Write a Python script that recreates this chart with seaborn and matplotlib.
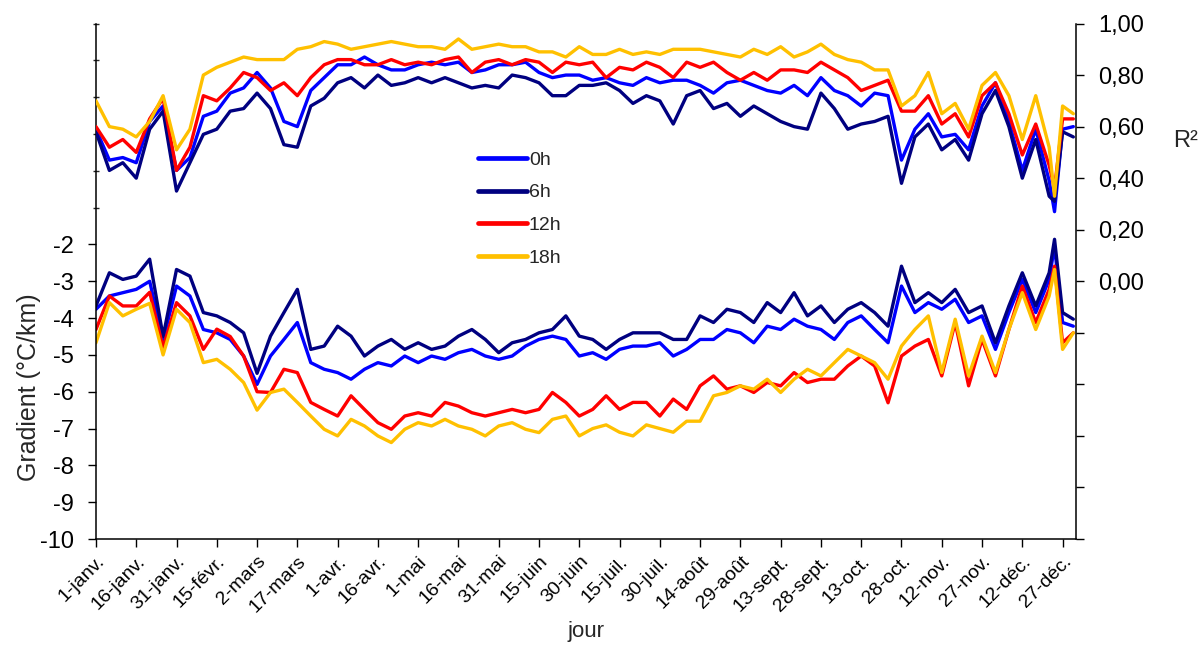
import numpy as np
import pandas as pd
import matplotlib
matplotlib.use("Agg")
import matplotlib.pyplot as plt
from matplotlib.ticker import FixedLocator
import seaborn as sns

# days of the year (1 = 1 janv.)
days = list(range(1, 357, 5)) + [358, 361, 365]

heures = ["0h", "6h", "12h", "18h"]
couleurs = ["#0000ff", "#000080", "#ff0000", "#ffc000"]

# R² (right axis)
r2_0h = [0.59, 0.47, 0.48, 0.46, 0.62, 0.68, 0.43, 0.48, 0.64, 0.66,
         0.73, 0.75, 0.81, 0.75, 0.62, 0.60, 0.74, 0.79, 0.84, 0.84,
         0.87, 0.84, 0.82, 0.82, 0.84, 0.85, 0.84, 0.85, 0.81, 0.82,
         0.84, 0.84, 0.85, 0.81, 0.79, 0.80, 0.80,
         0.78, 0.79, 0.77, 0.76, 0.79, 0.77, 0.78, 0.78, 0.76, 0.73,
         0.77, 0.78, 0.76, 0.74, 0.73, 0.76, 0.72, 0.79, 0.74, 0.72,
         0.68, 0.73, 0.72, 0.47, 0.59, 0.65, 0.56, 0.57, 0.51, 0.68,
         0.77, 0.62, 0.43, 0.59, 0.39, 0.27, 0.59, 0.60]
r2_6h = [0.58, 0.43, 0.46, 0.40, 0.59, 0.66, 0.35, 0.46, 0.57, 0.59,
         0.66, 0.67, 0.73, 0.67, 0.53, 0.52, 0.68, 0.71, 0.77, 0.79,
         0.75, 0.80, 0.76, 0.77, 0.79, 0.77, 0.79, 0.77, 0.75, 0.76,
         0.75, 0.80, 0.79, 0.77, 0.72, 0.72, 0.76,
         0.76, 0.77, 0.74, 0.69, 0.72, 0.70, 0.61, 0.72, 0.74, 0.67,
         0.69, 0.64, 0.68, 0.65, 0.62, 0.60, 0.59, 0.73, 0.67, 0.59,
         0.61, 0.62, 0.64, 0.38, 0.56, 0.61, 0.51, 0.55, 0.47, 0.65,
         0.74, 0.60, 0.40, 0.55, 0.33, 0.31, 0.58, 0.56]
r2_12h = [0.60, 0.52, 0.55, 0.50, 0.63, 0.71, 0.43, 0.52, 0.72, 0.70,
          0.75, 0.81, 0.79, 0.74, 0.77, 0.72, 0.79, 0.84, 0.86, 0.86,
          0.84, 0.84, 0.86, 0.84, 0.85, 0.84, 0.86, 0.87, 0.81, 0.85,
          0.86, 0.84, 0.86, 0.85, 0.81, 0.85, 0.84,
          0.85, 0.79, 0.83, 0.82, 0.85, 0.83, 0.79, 0.85, 0.83, 0.85,
          0.81, 0.78, 0.81, 0.78, 0.82, 0.82, 0.81, 0.85, 0.82, 0.79,
          0.74, 0.76, 0.78, 0.66, 0.66, 0.72, 0.61, 0.65, 0.56, 0.72,
          0.77, 0.65, 0.49, 0.61, 0.45, 0.36, 0.63, 0.63]
r2_18h = [0.70, 0.60, 0.59, 0.56, 0.62, 0.72, 0.51, 0.59, 0.80, 0.83,
          0.85, 0.87, 0.86, 0.86, 0.86, 0.90, 0.91, 0.93, 0.92, 0.90,
          0.91, 0.92, 0.93, 0.92, 0.91, 0.91, 0.90, 0.94, 0.90, 0.91,
          0.92, 0.91, 0.91, 0.89, 0.89, 0.87, 0.91,
          0.88, 0.88, 0.90, 0.88, 0.89, 0.88, 0.90, 0.90, 0.90, 0.89,
          0.88, 0.87, 0.90, 0.88, 0.91, 0.87, 0.89, 0.92, 0.88, 0.86,
          0.85, 0.82, 0.82, 0.68, 0.72, 0.81, 0.65, 0.69, 0.59, 0.76,
          0.81, 0.72, 0.55, 0.72, 0.52, 0.33, 0.68, 0.65]

# gradient en °C/km (left axis)
g_0h = [-3.76, -3.40, -3.31, -3.22, -3.00, -4.60, -3.13, -3.40, -4.31, -4.40,
        -4.58, -5.03, -5.80, -5.03, -4.58, -4.12, -5.21, -5.39, -5.48, -5.66,
        -5.39, -5.21, -5.30, -5.03, -5.21, -5.03, -5.12, -4.94, -4.85, -5.03,
        -5.12, -5.03, -4.76, -4.58, -4.49, -4.58, -5.03,
        -4.94, -5.12, -4.85, -4.76, -4.76, -4.67, -5.03, -4.85, -4.58, -4.58,
        -4.31, -4.40, -4.67, -4.22, -4.31, -4.03, -4.22, -4.31, -4.58, -4.12,
        -3.94, -4.31, -4.67, -3.13, -3.85, -3.58, -3.76, -3.49, -4.12, -3.94,
        -4.85, -3.85, -2.95, -3.85, -2.95, -2.05, -4.12, -4.22]
g_6h = [-3.67, -2.77, -2.95, -2.86, -2.40, -4.50, -2.68, -2.86, -3.85, -3.94,
        -4.12, -4.40, -5.50, -4.49, -3.85, -3.22, -4.85, -4.76, -4.22, -4.49,
        -5.03, -4.76, -4.58, -4.85, -4.67, -4.85, -4.76, -4.49, -4.31, -4.58,
        -4.94, -4.67, -4.58, -4.40, -4.31, -3.94, -4.49,
        -4.58, -4.85, -4.58, -4.40, -4.40, -4.40, -4.58, -4.58, -3.94, -4.12,
        -3.76, -3.85, -4.12, -3.58, -3.85, -3.31, -3.94, -3.67, -4.12, -3.76,
        -3.58, -3.85, -4.22, -2.59, -3.58, -3.31, -3.58, -3.22, -3.85, -3.67,
        -4.67, -3.67, -2.77, -3.67, -2.77, -1.86, -3.85, -4.03]
g_12h = [-4.31, -3.40, -3.67, -3.67, -3.30, -4.80, -3.58, -3.94, -4.85, -4.30,
         -4.50, -5.03, -6.00, -6.02, -5.39, -5.48, -6.29, -6.48, -6.66, -6.11,
         -6.48, -6.84, -7.02, -6.66, -6.57, -6.66, -6.29, -6.39, -6.57, -6.66,
         -6.57, -6.48, -6.57, -6.48, -6.02, -6.29, -6.66,
         -6.48, -6.11, -6.48, -6.29, -6.29, -6.66, -6.20, -6.48, -5.84, -5.57,
         -5.93, -5.84, -6.02, -5.75, -5.84, -5.48, -5.75, -5.66, -5.66, -5.30,
         -5.03, -5.30, -6.30, -5.03, -4.76, -4.58, -5.57, -4.12, -5.84, -4.58,
         -5.57, -4.31, -3.13, -4.12, -3.22, -2.59, -4.67, -4.40]
g_18h = [-4.67, -3.58, -3.94, -3.76, -3.60, -5.00, -3.76, -4.12, -5.21, -5.12,
         -5.39, -5.75, -6.50, -6.02, -5.93, -6.29, -6.66, -7.02, -7.20, -6.75,
         -6.93, -7.20, -7.38, -7.02, -6.84, -6.93, -6.75, -6.93, -7.02, -7.20,
         -6.93, -6.84, -7.02, -7.11, -6.75, -6.66, -7.20,
         -7.00, -6.90, -7.10, -7.20, -6.90, -7.00, -7.10, -6.80, -6.80, -6.11,
         -6.02, -5.84, -5.93, -5.66, -6.02, -5.66, -5.39, -5.57, -5.21, -4.85,
         -5.03, -5.21, -5.66, -4.76, -4.31, -3.94, -5.48, -4.03, -5.57, -4.49,
         -5.48, -4.31, -3.31, -4.31, -3.40, -2.68, -4.85, -4.40]

xtick_jours = [1, 16, 31, 46, 61, 76, 91, 106, 121, 136, 151, 166, 181,
               196, 211, 226, 241, 256, 271, 286, 301, 316, 331, 346, 361]
xtick_labels = ["1-janv.", "16-janv.", "31-janv.", "15-févr.", "2-mars",
                "17-mars", "1-avr.", "16-avr.", "1-mai", "16-mai", "31-mai",
                "15-juin", "30-juin", "15-juil.", "30-juil.", "14-août",
                "29-août", "13-sept.", "28-sept.", "13-oct.", "28-oct.",
                "12-nov.", "27-nov.", "12-déc.", "27-déc."]
grad_ticks = [-10, -9, -8, -7, -6, -5, -4, -3, -2]
grad_minor = [-1, 0, 1, 2, 3, 4]
r2_ticks = [-1.0, -0.8, -0.6, -0.4, -0.2, 0.0, 0.2, 0.4, 0.6, 0.8, 1.0]

df = pd.DataFrame({
    "jour": days * 4,
    "heure": np.repeat(heures, len(days)),
    "gradient": g_0h + g_6h + g_12h + g_18h,
    "r2": r2_0h + r2_6h + r2_12h + r2_18h,
})

sns.set_style("ticks")
plt.rcParams["font.family"] = ["Liberation Sans", "DejaVu Sans"]

fig = plt.figure(figsize=(12.04, 6.46), dpi=100)
ax = fig.add_axes([0.0797, 0.1656, 0.8140, 0.7980])
sns.lineplot(data=df, x="jour", y="gradient", hue="heure", hue_order=heures,
             palette=couleurs, linewidth=2.4, ax=ax)
ax2 = ax.twinx()
sns.lineplot(data=df, x="jour", y="r2", hue="heure", hue_order=heures,
             palette=couleurs, linewidth=2.4, ax=ax2, legend=False)

ax.set_xlim(1, 366)
ax.set_ylim(-10, 4)
ax2.set_ylim(-1, 1)

for a in (ax, ax2):
    a.spines["top"].set_visible(False)
    for s in a.spines.values():
        s.set_color("black")
        s.set_linewidth(1.1)
ax.spines["right"].set_visible(False)
ax2.spines["left"].set_visible(False)
ax2.spines["bottom"].set_visible(False)

# x axis
ax.set_xticks(xtick_jours)
ax.set_xticklabels(xtick_labels, rotation=45, ha="right", rotation_mode="anchor")
ax.tick_params(axis="x", length=6, width=1, labelsize=14, pad=4, colors="black")

# left axis: labels only for the lower part
ax.yaxis.set_major_locator(FixedLocator(grad_ticks))
ax.set_yticklabels([str(v) for v in grad_ticks])
ax.yaxis.set_minor_locator(FixedLocator(grad_minor))
ax.tick_params(axis="y", which="major", length=6, width=1, labelsize=17,
               pad=10, colors="black")
ax.tick_params(axis="y", which="minor", length=4, width=1, direction="inout")

# right axis: labels only for positive R²
ax2.set_yticks(r2_ticks)
ax2.set_yticklabels([f"{v:.2f}".replace(".", ",") if v >= 0 else "" for v in r2_ticks])
ax2.tick_params(axis="y", length=6, width=1, labelsize=17, pad=10, colors="black")

ax.set_xlabel("jour", fontsize=16)
ax.set_ylabel("Gradient (°C/km)", fontsize=18)
ax.yaxis.set_label_coords(-0.056, 0.295)
ax2.set_ylabel("R²", fontsize=17, rotation=0, ha="left", va="center")
ax2.yaxis.set_label_coords(1.099, 0.773)

handles, labels = ax.get_legend_handles_labels()
ax.get_legend().remove()
leg = ax.legend(handles, labels, loc="upper left", bbox_to_anchor=(0.397, 0.766),
                bbox_transform=fig.transFigure, frameon=False, fontsize=14,
                borderpad=0, borderaxespad=0, handlelength=2.5,
                handletextpad=0.12, labelspacing=0.77)
for line in leg.get_lines():
    line.set_linewidth(3.4)

fig.savefig("out.png", dpi=100)
